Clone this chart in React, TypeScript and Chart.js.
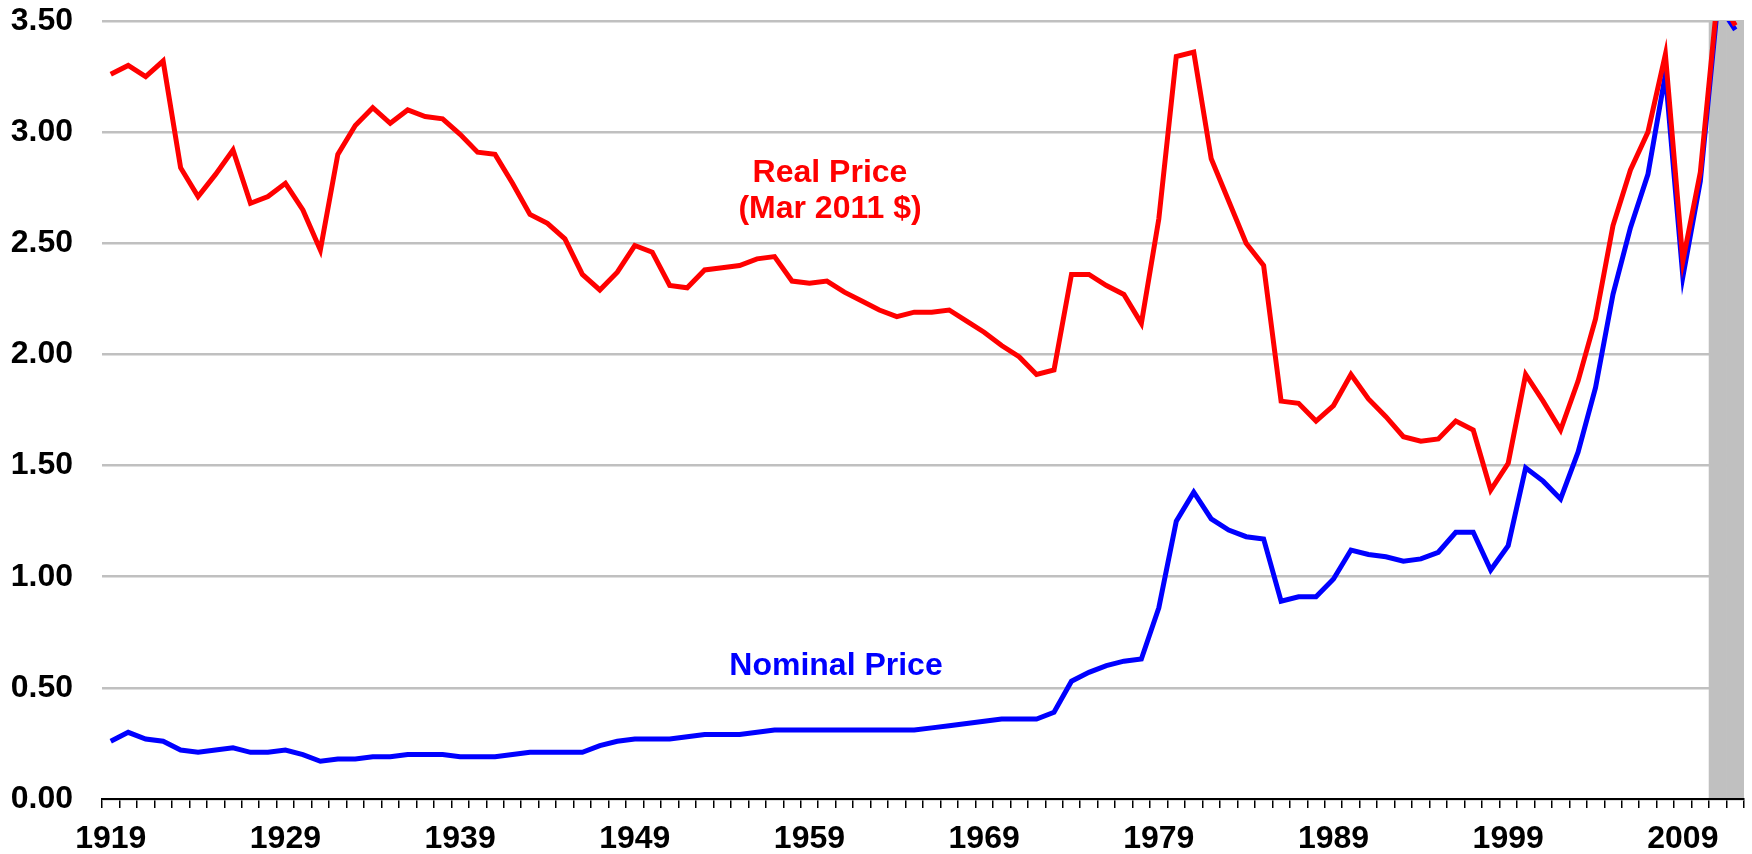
import React, { useEffect, useRef } from "react";
import { Chart, registerables } from "chart.js";

Chart.register(...registerables);

const years: number[] = [
  1919, 1920, 1921, 1922, 1923, 1924, 1925, 1926, 1927, 1928,
  1929, 1930, 1931, 1932, 1933, 1934, 1935, 1936, 1937, 1938,
  1939, 1940, 1941, 1942, 1943, 1944, 1945, 1946, 1947, 1948,
  1949, 1950, 1951, 1952, 1953, 1954, 1955, 1956, 1957, 1958,
  1959, 1960, 1961, 1962, 1963, 1964, 1965, 1966, 1967, 1968,
  1969, 1970, 1971, 1972, 1973, 1974, 1975, 1976, 1977, 1978,
  1979, 1980, 1981, 1982, 1983, 1984, 1985, 1986, 1987, 1988,
  1989, 1990, 1991, 1992, 1993, 1994, 1995, 1996, 1997, 1998,
  1999, 2000, 2001, 2002, 2003, 2004, 2005, 2006, 2007, 2008,
  2009, 2010, 2011, 2012,
];

const realPrice: number[] = [
  3.26, 3.30, 3.25, 3.32, 2.84, 2.71, 2.81, 2.92, 2.68, 2.71,
  2.77, 2.65, 2.47, 2.90, 3.03, 3.11, 3.04, 3.10, 3.07, 3.06,
  2.99, 2.91, 2.90, 2.77, 2.63, 2.59, 2.52, 2.36, 2.29, 2.37,
  2.49, 2.46, 2.31, 2.30, 2.38, 2.39, 2.40, 2.43, 2.44, 2.33,
  2.32, 2.33, 2.28, 2.24, 2.20, 2.17, 2.19, 2.19, 2.20, 2.15,
  2.10, 2.04, 1.99, 1.91, 1.93, 2.36, 2.36, 2.31, 2.27, 2.14,
  2.61, 3.34, 3.36, 2.88, 2.69, 2.50, 2.40, 1.79, 1.78, 1.70,
  1.77, 1.91, 1.80, 1.72, 1.63, 1.61, 1.62, 1.70, 1.66, 1.39,
  1.51, 1.91, 1.79, 1.66, 1.88, 2.16, 2.58, 2.83, 3.00, 3.35,
  2.42, 2.82, 3.62, 3.48,
];

const nominalPrice: number[] = [
  0.26, 0.30, 0.27, 0.26, 0.22, 0.21, 0.22, 0.23, 0.21, 0.21,
  0.22, 0.20, 0.17, 0.18, 0.18, 0.19, 0.19, 0.20, 0.20, 0.20,
  0.19, 0.19, 0.19, 0.20, 0.21, 0.21, 0.21, 0.21, 0.24, 0.26,
  0.27, 0.27, 0.27, 0.28, 0.29, 0.29, 0.29, 0.30, 0.31, 0.31,
  0.31, 0.31, 0.31, 0.31, 0.31, 0.31, 0.31, 0.32, 0.33, 0.34,
  0.35, 0.36, 0.36, 0.36, 0.39, 0.53, 0.57, 0.60, 0.62, 0.63,
  0.86, 1.25, 1.38, 1.26, 1.21, 1.18, 1.17, 0.89, 0.91, 0.91,
  0.99, 1.12, 1.10, 1.09, 1.07, 1.08, 1.11, 1.20, 1.20, 1.03,
  1.14, 1.49, 1.43, 1.35, 1.56, 1.85, 2.27, 2.57, 2.81, 3.26,
  2.35, 2.78, 3.58, 3.46,
];

const shadedYears: number[] = [2011, 2012];
const shadeTop = 3.5;

const xTickLabels: string[] = ["1919", "1929", "1939", "1949", "1959", "1969", "1979", "1989", "1999", "2009"];

const FONT = '"Liberation Sans", Arial, sans-serif';

const textPlugin = {
  id: "seriesText",
  afterDatasetsDraw(chart: any) {
    const ctx = chart.ctx;
    ctx.save();
    ctx.font = `bold 32px ${FONT}`;
    ctx.textAlign = "center";
    ctx.textBaseline = "alphabetic";
    ctx.fillStyle = "#FF0000";
    ctx.fillText("Real Price", 830, 182);
    ctx.fillText("(Mar 2011 $)", 830, 218);
    ctx.fillStyle = "#0000FF";
    ctx.fillText("Nominal Price", 836, 675);
    ctx.restore();
  },
};

export default function App() {
  const ref = useRef<HTMLCanvasElement | null>(null);

  useEffect(() => {
    if (!ref.current) return;
    const shade = years.map((y) => (shadedYears.includes(y) ? shadeTop : null));
    const chart = new Chart(ref.current, {
      type: "line",
      data: {
        labels: years.map(String),
        datasets: [
          {
            type: "line",
            label: "Real Price",
            data: realPrice,
            borderColor: "#FF0000",
            borderWidth: 5,
            pointRadius: 0,
            tension: 0,
            fill: false,
          },
          {
            type: "line",
            label: "Nominal Price",
            data: nominalPrice,
            borderColor: "#0000FF",
            borderWidth: 5,
            pointRadius: 0,
            tension: 0,
            fill: false,
          },
          {
            type: "bar",
            label: "shade",
            data: shade as any,
            backgroundColor: "#C0C0C0",
            borderWidth: 0,
            barPercentage: 1,
            categoryPercentage: 1,
          } as any,
        ],
      },
      options: {
        responsive: false,
        animation: false,
        layout: { padding: { top: 21, right: 8, bottom: 0, left: 0 } },
        plugins: {
          legend: { display: false },
          tooltip: { enabled: false },
        },
        scales: {
          x: {
            type: "category",
            offset: true,
            grid: {
              offset: true,
              drawOnChartArea: false,
              drawTicks: true,
              tickLength: 9,
              color: "#000000",
              lineWidth: 1.5,
            },
            border: { display: true, color: "#000000", width: 2 },
            ticks: {
              autoSkip: false,
              maxRotation: 0,
              minRotation: 0,
              padding: 12,
              color: "#000000",
              font: { family: FONT, size: 32, weight: "bold" },
              callback: (_v: any, i: number) => {
                const s = String(years[i]);
                return xTickLabels.includes(s) ? s : "";
              },
            },
            afterFit: (scale: any) => {
              scale.height = 55;
              scale.paddingLeft = 0;
              scale.paddingRight = 0;
            },
          },
          y: {
            min: 0,
            max: 3.5,
            grid: {
              color: "#C0C0C0",
              lineWidth: 2.5,
              drawTicks: false,
            },
            border: { display: false },
            ticks: {
              stepSize: 0.5,
              padding: 29,
              color: "#000000",
              font: { family: FONT, size: 32, weight: "bold" },
              callback: (v: any) => Number(v).toFixed(2),
            },
            afterFit: (scale: any) => {
              scale.width = 102;
              scale.paddingTop = 0;
              scale.paddingBottom = 0;
            },
          },
        },
      },
      plugins: [textPlugin],
    });
    return () => chart.destroy();
  }, []);

  return (
    <div style={{ position: "fixed", left: 0, top: 0, width: 1752, height: 854, background: "#fff" }}>
      <canvas ref={ref} width={1752} height={854} style={{ display: "block" }} />
    </div>
  );
}
